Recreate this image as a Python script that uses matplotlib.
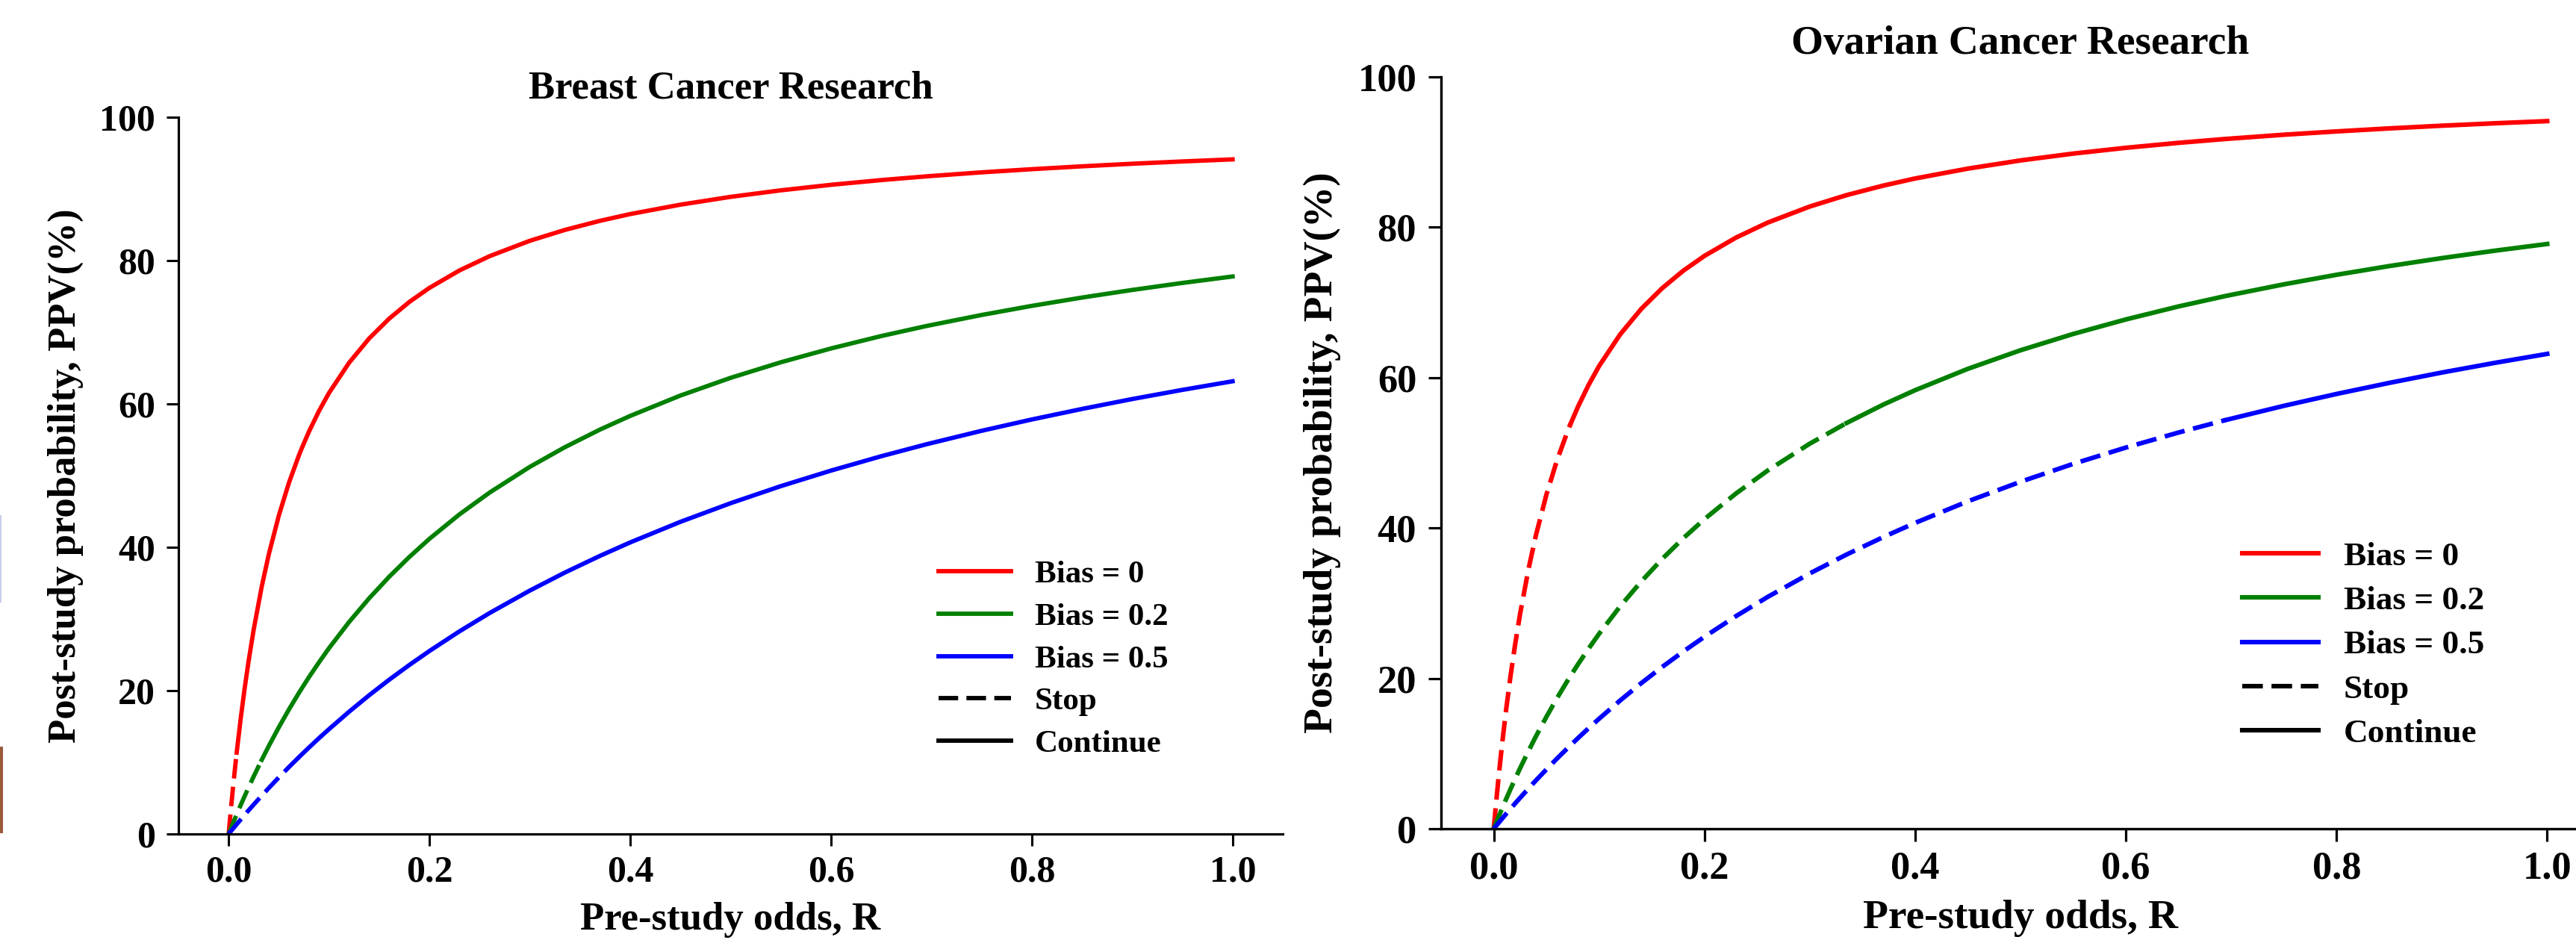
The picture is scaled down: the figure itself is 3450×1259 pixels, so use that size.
import matplotlib
matplotlib.use("Agg")
import matplotlib.pyplot as plt
from matplotlib.lines import Line2D
from matplotlib.patches import Rectangle

# Pre-study odds R (shared x values of all curves)
R = [0, 0.0025, 0.005, 0.008, 0.012, 0.016, 0.02, 0.025, 0.033, 0.04,
     0.05, 0.06, 0.07, 0.073, 0.08, 0.09, 0.1, 0.12, 0.14, 0.16,
     0.18, 0.2, 0.23, 0.26, 0.3, 0.335, 0.37, 0.4, 0.45, 0.5,
     0.55, 0.6, 0.65, 0.695, 0.75, 0.8, 0.85, 0.9, 0.95, 1.0]

# Post-study probability PPV (%)
PPV_bias0 = [0, 3.85, 7.41, 11.35, 16.11, 20.38, 24.24, 28.57, 34.55, 39.02,
             44.44, 48.98, 52.83, 53.87, 56.14, 59.02, 61.54, 65.75, 69.14, 71.91,
             74.23, 76.19, 78.63, 80.62, 82.76, 84.28, 85.55, 86.49, 87.80, 88.89,
             89.80, 90.57, 91.23, 91.75, 92.31, 92.75, 93.15, 93.51, 93.83, 94.12]
PPV_bias02 = [0, 0.87, 1.72, 2.72, 4.03, 5.30, 6.54, 8.05, 10.35, 12.28,
              14.89, 17.36, 19.68, 20.35, 21.88, 23.95, 25.93, 29.58, 32.89, 35.90,
              38.65, 41.18, 44.60, 47.64, 51.22, 53.97, 56.43, 58.33, 61.17, 63.64,
              65.81, 67.74, 69.47, 70.87, 72.41, 73.68, 74.84, 75.90, 76.88, 77.78]
PPV_bias05 = [0, 0.43, 0.85, 1.35, 2.02, 2.67, 3.32, 4.11, 5.35, 6.42,
              7.89, 9.33, 10.71, 11.12, 12.06, 13.37, 14.63, 17.06, 19.36, 21.53,
              23.58, 25.53, 28.28, 30.83, 33.96, 36.48, 38.81, 40.68, 43.55, 46.15,
              48.53, 50.70, 52.70, 54.37, 56.25, 57.83, 59.30, 60.68, 61.96, 63.16]

bias_labels = ['Bias = 0', 'Bias = 0.2', 'Bias = 0.5']
colors = ['red', 'green', 'blue']

# R at which each curve goes from "Stop" (dashed) to "Continue" (solid)
breast_switch = [0.008, 0.033, 0.07]
ovarian_switch = [0.073, 0.335, 0.695]

xticks = [0.0, 0.2, 0.4, 0.6, 0.8, 1.0]
yticks = [0, 20, 40, 60, 80, 100]

plt.rcParams['font.family'] = ['Liberation Serif', 'DejaVu Serif']
plt.rcParams['font.weight'] = 'bold'

W, H = 3450, 1259
fig = plt.figure(figsize=(W / 100, H / 100), dpi=100)

DASH = (0, (4.5, 1.9))


def draw_panel(box, title, switch, s, leg_xy, title_pad):
    # box is (left, top, right, bottom) in pixels
    l, t, r, b = box
    ax = fig.add_axes([l / W, 1 - b / H, (r - l) / W, (b - t) / H])
    lw = 4.2 * s
    for ppv, c, sw in zip([PPV_bias0, PPV_bias02, PPV_bias05], colors, switch):
        k = R.index(sw)
        ax.plot(R[:k + 1], ppv[:k + 1], color=c, lw=lw, linestyle=DASH)
        ax.plot(R[k:], ppv[k:], color=c, lw=lw)

    ax.set_xlim(-0.05, 1.05)
    ax.set_ylim(0, 100)
    ax.set_xticks(xticks)
    ax.set_xticklabels(['%.1f' % v for v in xticks])
    ax.set_yticks(yticks)
    ax.spines['top'].set_visible(False)
    ax.spines['right'].set_visible(False)
    for sp in ['left', 'bottom']:
        ax.spines[sp].set_linewidth(2.3 * s)
    ax.tick_params(axis='both', direction='out', length=11.5 * s, width=2.2 * s,
                   labelsize=36 * s)
    ax.tick_params(axis='x', pad=9 * s)
    ax.tick_params(axis='y', pad=11 * s)

    ax.set_title(title, fontsize=38 * s, fontweight='bold', pad=title_pad)
    ax.set_xlabel('Pre-study odds, R', fontsize=38 * s, fontweight='bold', labelpad=12 * s)
    ax.set_ylabel('Post-study probability, PPV(%)', fontsize=38 * s, fontweight='bold',
                  labelpad=15 * s)

    handles = [Line2D([], [], color=c, lw=lw) for c in colors]
    handles.append(Line2D([], [], color='black', lw=lw, linestyle=DASH))
    handles.append(Line2D([], [], color='black', lw=lw))
    labels = bias_labels + ['Stop', 'Continue']
    ax.legend(handles, labels, loc='center left',
              bbox_to_anchor=(leg_xy[0] / W, 1 - leg_xy[1] / H),
              bbox_transform=fig.transFigure, frameon=False,
              prop={'size': 31 * s, 'weight': 'bold'},
              handlelength=2.25, handletextpad=0.75, labelspacing=0.41,
              borderpad=0, borderaxespad=0)
    return ax


draw_panel((239, 157, 1718, 1117), 'Breast Cancer Research', breast_switch, 1.0,
           (1257, 883), 18)
draw_panel((1930, 103, 3482, 1110), 'Ovarian Cancer Research', ovarian_switch, 1.05,
           (3003, 864), 22)

# scraps of a neighbouring image at the left edge
fig.patches.append(Rectangle((0, 1 - 807 / H), 2 / W, 117 / H, transform=fig.transFigure,
                             facecolor='#c8cde8', edgecolor='none'))
fig.patches.append(Rectangle((0, 1 - 1116 / H), 4 / W, 116 / H, transform=fig.transFigure,
                             facecolor='#9a5a3a', edgecolor='none'))

fig.savefig('out.png', dpi=100)
